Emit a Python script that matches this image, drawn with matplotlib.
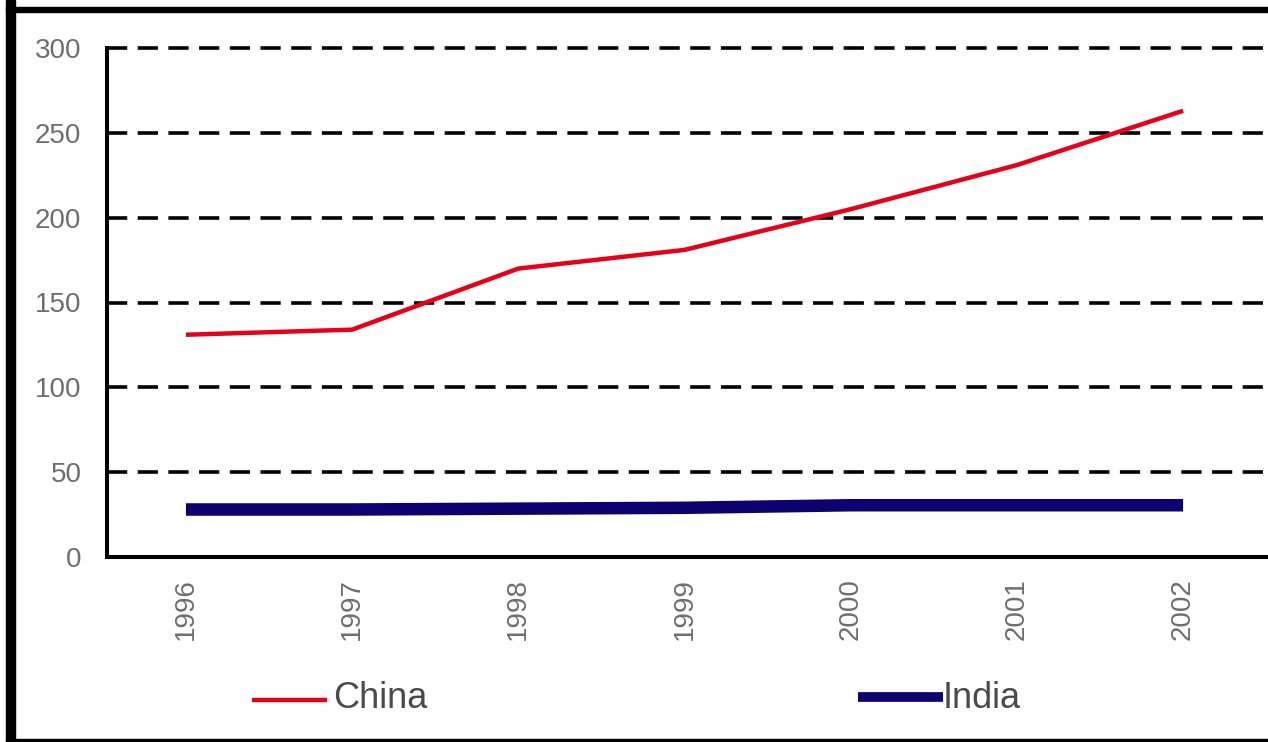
import matplotlib
matplotlib.use("Agg")
import matplotlib.pyplot as plt
from matplotlib.patches import Rectangle
from matplotlib.lines import Line2D

years = ["1996", "1997", "1998", "1999", "2000", "2001", "2002"]
china = [131, 134, 170, 181, 205, 231, 263]
india = [28, 28, 28.5, 29, 30.5, 30.5, 30.5]
yticks = [0, 50, 100, 150, 200, 250, 300]

W, H = 1268, 742
DPI = 100
plt.rcParams["font.family"] = ["Liberation Sans", "DejaVu Sans"]

fig = plt.figure(figsize=(W / DPI, H / DPI), dpi=DPI)
fig.patch.set_facecolor("white")


def fx(px):
    return px / W


def fy(py):
    return 1 - py / H


# plot area in pixel terms
left, right, top, bottom = 106.5, 1268, 48, 557
ax = fig.add_axes([fx(left), fy(bottom), fx(right - left), (bottom - top) / H])

x = list(range(len(years)))

# dashed horizontal grid
for v in yticks[1:]:
    ax.axhline(v, color="black", lw=2.6, linestyle=(0, (5.6, 2.9)),
               clip_on=False, zorder=1)

ax.plot(x, china, color="#E60018", lw=3.2, solid_capstyle="butt", zorder=3)
ax.plot(x, india, color="#0D0070", lw=9.0, solid_capstyle="butt", zorder=3)

ax.set_xlim(-0.478, 6.511)
ax.set_ylim(0, 300)
ax.set_yticks(yticks)
ax.set_yticklabels([str(v) for v in yticks])
ax.set_xticks(x)
ax.set_xticklabels(years, rotation=90, va="top", ha="center")

for s in ("top", "right"):
    ax.spines[s].set_visible(False)
for s in ("left", "bottom"):
    ax.spines[s].set_linewidth(2.9)
    ax.spines[s].set_color("black")
    ax.spines[s].set_capstyle("projecting")

ax.tick_params(axis="y", length=0, pad=18, labelsize=20, labelcolor="#6e6e6e")
ax.tick_params(axis="x", length=0, pad=15, labelsize=20, labelcolor="#6e6e6e")
ax.set_facecolor("white")

# legend drawn below the axis
def legend_entry(x0, x1, y, color, lw, label, tx):
    fig.add_artist(Line2D([fx(x0), fx(x1)], [fy(y), fy(y)], color=color,
                          lw=lw, solid_capstyle="butt",
                          transform=fig.transFigure))
    fig.text(fx(tx), fy(698), label, color="#4a4a4a", fontsize=26,
             va="center", ha="left")


legend_entry(252, 327, 700, "#E60018", 3.2, "China", 333)
legend_entry(858, 943, 697, "#0D0070", 7.0, "India", 943)

# outer frame
black = "black"
fig.patches.append(Rectangle((fx(6), 0), fx(9), 1, transform=fig.transFigure,
                             color=black, zorder=10))
fig.patches.append(Rectangle((fx(6), fy(12)), 1, 5 / H,
                             transform=fig.transFigure, color=black, zorder=10))
fig.patches.append(Rectangle((fx(6), 0), 1, 3 / H,
                             transform=fig.transFigure, color=black, zorder=10))

fig.savefig("out.png", dpi=DPI)
